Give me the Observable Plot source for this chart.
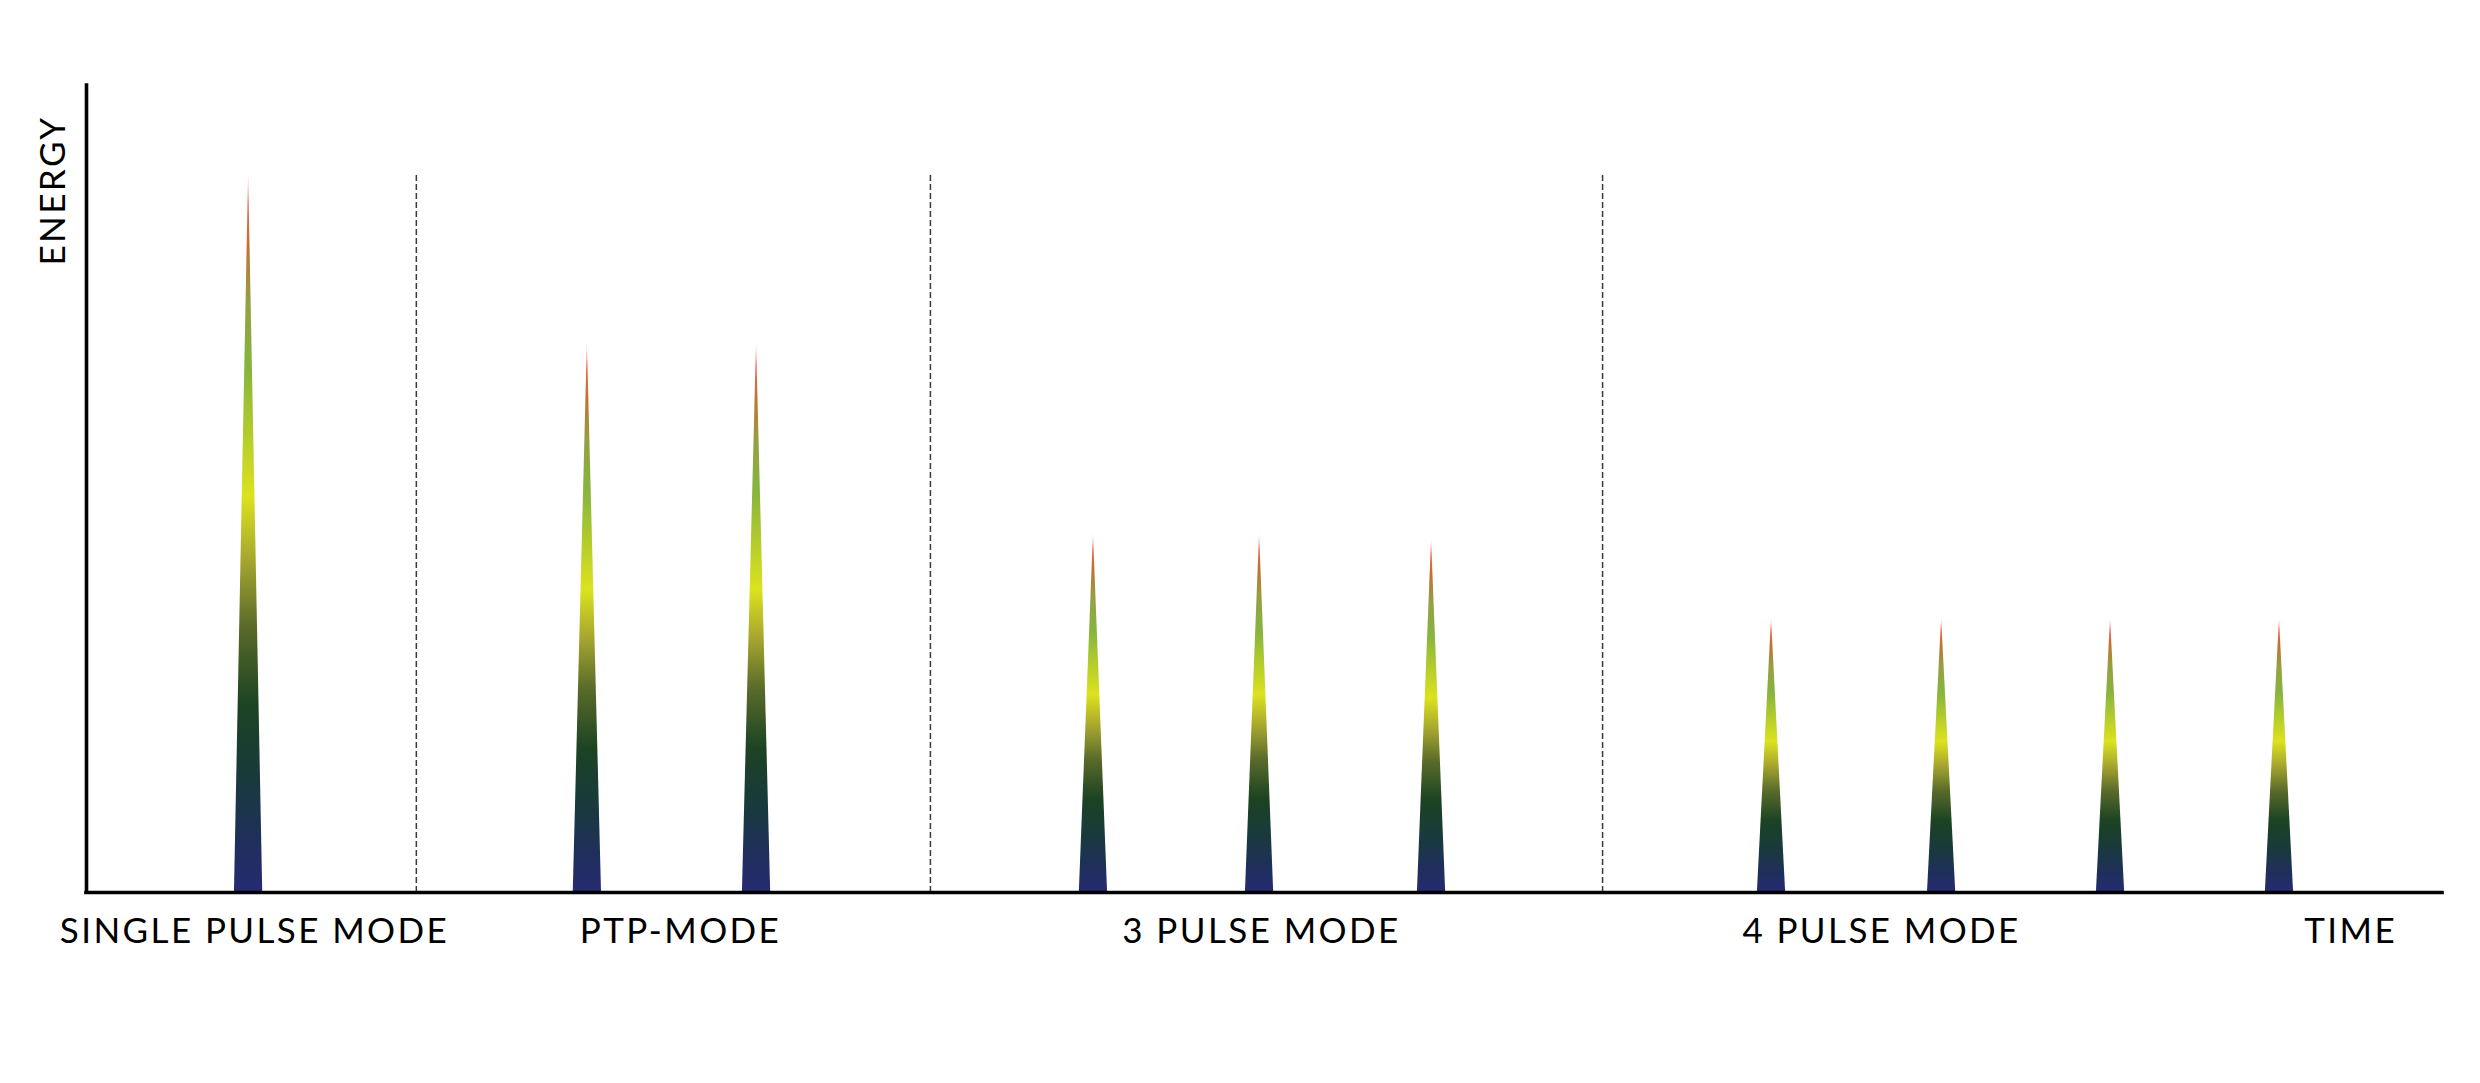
<!DOCTYPE html>
<html>
<head>
<meta charset="utf-8">
<script src="https://cdn.jsdelivr.net/npm/d3@7"></script>
<script src="https://cdn.jsdelivr.net/npm/@observablehq/plot@0.6"></script>
<style>
  html, body { margin: 0; padding: 0; background: #ffffff; }
  #chart svg { display: block; }
</style>
</head>
<body>
<div id="chart"></div>
<script>
// ---- data (time in arbitrary units 0–100, energy relative: single pulse = 100)
const pulseTimes    = [6.88, 21.26, 28.44, 42.74, 49.79, 57.09, 71.52, 78.74, 85.91, 93.08];
const pulseEnergies = [100, 76.5, 76.5, 49.9, 49.9, 49.1, 38.1, 38.1, 38.1, 38.1];
const dividerTimes  = [14.0, 35.82, 64.35];
const modeLabels     = ["SINGLE PULSE MODE", "PTP-MODE", "3 PULSE MODE", "4 PULSE MODE", "TIME"];
const modeLabelTimes = [7.13, 25.21, 49.87, 76.19, 96.1];
const yLabel = "ENERGY";

const pulseHalfWidth = 0.6; // half of the base width of a pulse, in time units

// triangle outline of each pulse, built from its time and energy
const spikes = pulseTimes.flatMap((t, i) => [
  {id: i, t: t - pulseHalfWidth, e: 0},
  {id: i, t: t, e: pulseEnergies[i]},
  {id: i, t: t + pulseHalfWidth, e: 0}
]);
const labelRows = modeLabels.map((label, i) => ({label, t: modeLabelTimes[i]}));

const svg = Plot.plot({
  width: 2480,
  height: 1083,
  marginLeft: 86,
  marginRight: 38,
  marginTop: 85,
  marginBottom: 191,
  style: {fontFamily: "Lato, 'Open Sans', sans-serif", fontSize: "35px", letterSpacing: "2.4px", background: "#ffffff", color: "#000"},
  x: {domain: [0, 100], axis: null},
  y: {domain: [0, 112.2], axis: null},
  marks: [
    Plot.ruleX(dividerTimes, {y1: 0, y2: 100.1, stroke: "#3a3a3a", strokeWidth: 1.5, strokeDasharray: "6,3"}),
    Plot.areaY(spikes, {x: "t", y: "e", z: "id", fill: "url(#spikeGrad)", curve: "linear"}),
    Plot.ruleY([0], {stroke: "#000", strokeWidth: 3.6, strokeLinecap: "square"}),
    Plot.ruleX([0], {stroke: "#000", strokeWidth: 3.6, strokeLinecap: "square"}),
    Plot.text(labelRows, {x: "t", text: "label", frameAnchor: "bottom", dy: 50, lineAnchor: "bottom", fill: "#000", fontSize: 35}),
    Plot.text([yLabel], {text: d => d, frameAnchor: "top-left", dx: -33, dy: 105, rotate: -90, textAnchor: "middle", lineAnchor: "middle", fill: "#000", fontSize: 35})
  ]
});

// vertical colour gradient used by every pulse (relative to each pulse's own box)
const stops = [
  [0.00, "#ff9d9d", 0.55],
  [0.04, "#ef6650", 1],
  [0.10, "#c4702f", 1],
  [0.18, "#95a042", 1],
  [0.27, "#86b43e", 1],
  [0.36, "#b2cb2d", 1],
  [0.45, "#dce21e", 1],
  [0.54, "#a5a52f", 1],
  [0.63, "#5a6b2a", 1],
  [0.74, "#1b4323", 1],
  [0.84, "#193a3c", 1],
  [0.93, "#1f2f5c", 1],
  [1.00, "#262b72", 1]
];
const defs = d3.select(svg).insert("defs", ":first-child");
const grad = defs.append("linearGradient")
  .attr("id", "spikeGrad")
  .attr("x1", 0).attr("y1", 0).attr("x2", 0).attr("y2", 1);
grad.selectAll("stop").data(stops).join("stop")
  .attr("offset", d => d[0])
  .attr("stop-color", d => d[1])
  .attr("stop-opacity", d => d[2]);

document.getElementById("chart").appendChild(svg);
</script>
</body>
</html>
